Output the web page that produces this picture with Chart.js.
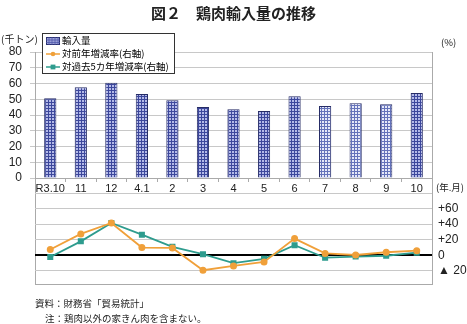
<!DOCTYPE html>
<html>
<head>
<meta charset="utf-8">
<script src="https://cdn.jsdelivr.net/npm/chart.js@4.4.0/dist/chart.umd.min.js"></script>
<style>
  body { margin: 0; background: #fff; font-family: "Noto Sans CJK JP", sans-serif; }
  #wrap { position: relative; width: 467px; height: 324px; overflow: hidden; }
  canvas { position: absolute; left: 0; top: 0; }
  .txt { position: absolute; white-space: nowrap; color: #222; }
  #frame { position: absolute; left: 35px; top: 52px; width: 396px; height: 232px;
           border-left: 1px solid #aaa; border-right: 1px solid #aaa; border-bottom: 1px solid #aaa; }
  #legend { position: absolute; left: 42px; top: 33px; width: 131px; height: 39px;
            border: 1px solid #333; background: #fff; font-size: 9.5px; }
  #legend div { position: absolute; left: 3px; height: 13px; line-height: 13px; white-space: nowrap; }
  #legend svg { vertical-align: middle; margin-right: 2px; }
</style>
</head>
<body>
<div id="wrap">
  <div id="frame"></div>
  <canvas id="topChart" width="467" height="324"></canvas>
  <canvas id="bottomChart" width="467" height="324"></canvas>

  <div class="txt" style="left:0;width:467px;top:2px;text-align:center;font-size:15px;font-weight:bold;">図２　鶏肉輸入量の推移</div>
  <div class="txt" style="left:1px;top:31px;font-size:10px;">(千トン)</div>
  <div class="txt" style="left:441px;top:35px;font-size:9.5px;">(%)</div>
  <div class="txt" style="left:436px;top:180px;font-size:9.5px;">(年.月)</div>
  <div class="txt" style="left:35px;top:296px;font-size:9.5px;">資料：財務省「貿易統計」</div>
  <div class="txt" style="left:45px;top:311px;font-size:9.5px;">注：鶏肉以外の家きん肉を含まない。</div>

  <div id="legend">
    <div style="top:0px;"><svg width="14" height="8"><rect x="0.5" y="0.5" width="13" height="7" fill="#9aa0d8" stroke="#2a3070"/><path d="M3 0V8M6 0V8M9 0V8M12 0V8M0 3H14M0 5.5H14" stroke="#4a55a8" stroke-width="0.7"/></svg>輸入量</div>
    <div style="top:13px;"><svg width="14" height="8"><line x1="0" y1="4" x2="14" y2="4" stroke="#f0a03a" stroke-width="1.5"/><circle cx="7" cy="4" r="2.3" fill="#f0a03a"/></svg>対前年増減率(右軸)</div>
    <div style="top:26px;"><svg width="14" height="8"><line x1="0" y1="4" x2="14" y2="4" stroke="#2e9c8e" stroke-width="1.5"/><rect x="4.6" y="1.6" width="4.8" height="4.8" fill="#2e9c8e"/></svg>対過去5カ年増減率(右軸)</div>
  </div>
</div>

<script>
// data
const months = ['R3.10', '11', '12', '4.1', '2', '3', '4', '5', '6', '7', '8', '9', '10'];
const imports = [50.6, 57.6, 60.5, 53.3, 49.3, 45.1, 43.6, 42.5, 51.9, 45.7, 47.4, 46.8, 54.0];
const yoyRate = [7.5, 27.5, 41.5, 10, 9.5, -19, -13.5, -8.5, 21.5, 2.5, 0.5, 4, 6];
const fiveYearRate = [-2, 18, 41.5, 26.5, 11, 1.5, -10, -4.5, 13, -3, -1.5, -0.5, 3.5];
const rateTicks = [-20, 0, 20, 40, 60, 80];

// bar fill patterns
function makePattern(size, bg, line) {
  let c = document.createElement('canvas');
  c.width = size; c.height = size;
  let g = c.getContext('2d');
  g.fillStyle = bg;
  g.fillRect(0, 0, size, size);
  g.fillStyle = line;
  g.fillRect(0, 0, size, 1);
  g.fillRect(0, 0, 1, size);
  return c.getContext('2d').createPattern(c, 'repeat');
}
const ctxTop = document.getElementById('topChart').getContext('2d');
const densePat = makePattern(3, '#b4bae8', '#3c479c');
const lightPat = makePattern(3, '#e6e9f8', '#6472ba');
const barFills = months.map((m, i) => (i >= 9 && i <= 11) ? lightPat : densePat);

const tickFont = { family: 'Liberation Sans', size: 11 };

// top chart: imports
new Chart(ctxTop, {
  type: 'bar',
  data: {
    labels: months,
    datasets: [{
      label: '輸入量',
      data: imports,
      backgroundColor: barFills,
      borderColor: '#262c66',
      borderWidth: 1,
      barPercentage: 0.4,
      categoryPercentage: 1,
    }],
  },
  options: {
    responsive: false,
    animation: false,
    layout: { padding: { top: 52, right: 35, bottom: 124, left: 0 } },
    plugins: { legend: { display: false }, tooltip: { enabled: false } },
    scales: {
      x: {
        offset: true,
        grid: { offset: true, drawOnChartArea: false, color: '#aaa', tickLength: 4 },
        border: { color: '#aaa' },
        ticks: { font: tickFont, color: '#222', padding: 0, maxRotation: 0, autoSkip: false },
        afterFit: s => { s.height = 22; },
      },
      y: {
        min: 0, max: 80,
        ticks: { stepSize: 10, autoSkip: false, font: { family: 'Liberation Sans', size: 12 }, color: '#222', padding: 8 },
        grid: { color: '#c8c8c8', tickLength: 5 },
        border: { color: '#aaa' },
        afterFit: s => { s.width = 35; },
      },
    },
  },
});

// bottom chart: rates
new Chart(document.getElementById('bottomChart'), {
  type: 'line',
  data: {
    labels: months,
    datasets: [
      {
        label: '対前年増減率(右軸)',
        data: yoyRate,
        borderColor: '#f0a03a',
        backgroundColor: '#f0a03a',
        borderWidth: 1.8,
        pointStyle: 'circle',
        pointRadius: 2.6,
        tension: 0,
      },
      {
        label: '対過去5カ年増減率(右軸)',
        data: fiveYearRate,
        borderColor: '#2e9c8e',
        backgroundColor: '#2e9c8e',
        borderWidth: 1.8,
        pointStyle: 'rect',
        pointRadius: 3,
        tension: 0,
      },
    ],
  },
  options: {
    responsive: false,
    animation: false,
    layout: { padding: { top: 193, right: 0, bottom: 39, left: 35 } },
    plugins: { legend: { display: false }, tooltip: { enabled: false } },
    scales: {
      x: { display: false, offset: true },
      y: {
        position: 'right',
        min: -38, max: 80,
        afterBuildTicks: s => { s.ticks = rateTicks.map(v => ({ value: v })); },
        ticks: {
          autoSkip: false,
          font: { family: 'Liberation Sans', size: 12 },
          color: '#222',
          padding: 6,
          callback: v => v === 80 ? '' : v === 0 ? '0' : v > 0 ? '+' + v : '▲ ' + (-v),
        },
        grid: {
          drawTicks: false,
          color: c => c.tick && c.tick.value === 0 ? '#000' : '#c8c8c8',
          lineWidth: c => c.tick && c.tick.value === 0 ? 2 : 1,
        },
        border: { display: false },
        afterFit: s => { s.width = 35; },
      },
    },
  },
});
</script>
</body>
</html>
